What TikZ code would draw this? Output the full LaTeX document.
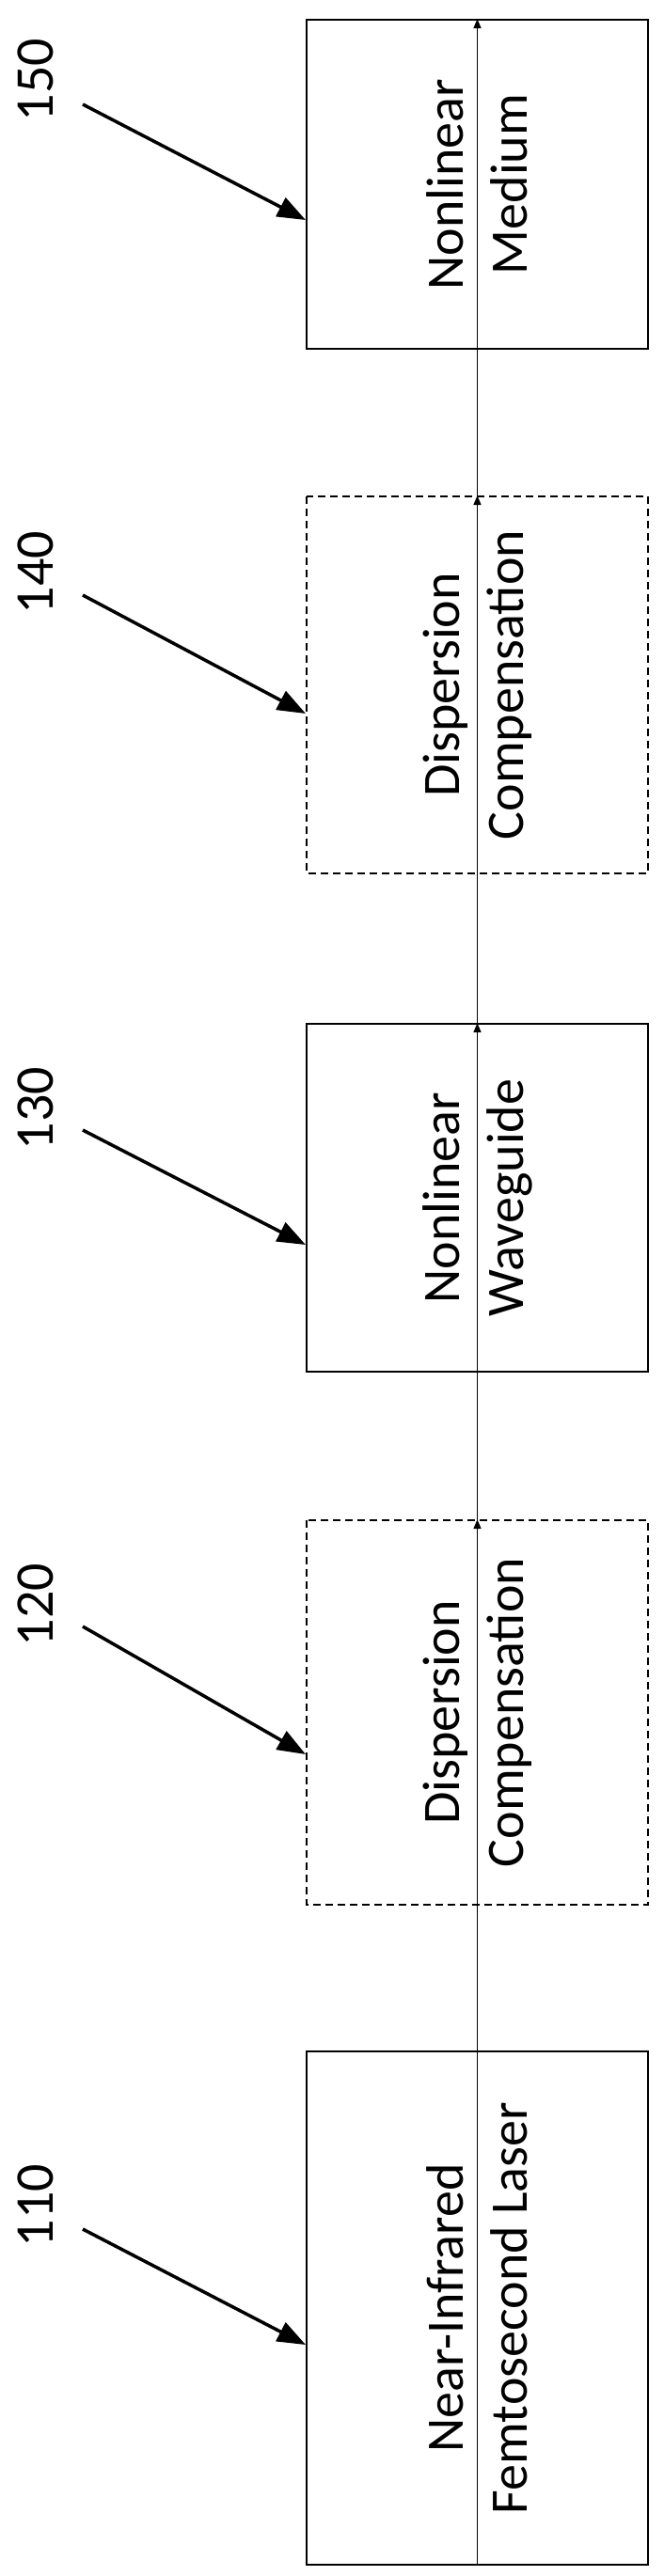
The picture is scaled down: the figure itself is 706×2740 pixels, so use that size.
\documentclass[tikz,border=0pt]{standalone}
\usepackage{fontspec}
\setmainfont{Carlito}
\usetikzlibrary{arrows.meta}
\begin{document}
\begin{tikzpicture}[x=1pt,y=-1pt,
  blk/.style={draw,line width=1.8pt,minimum width=363pt,inner sep=0pt,
    align=center,font=\fontsize{56}{68}\selectfont,rotate=90},
  dblk/.style={blk,dash pattern=on 8pt off 5pt},
  lbl/.style={font=\fontsize{58}{60}\selectfont,rotate=90,inner sep=0pt},
  lead/.style={line width=3.5pt,-{Triangle[length=30pt,width=22pt]}},
  conn/.style={line width=1.5pt,-{Triangle[length=10pt,width=8pt]}}]
\useasboundingbox (0,0) rectangle (706,2740);
% rotated nodes: minimum width is along text direction -> set minimum height as box width
\tikzset{bx/.style 2 args={minimum width=#1,minimum height=363pt}}
\node[blk,bx={350pt}{}] (n150) at (507.5,196) {Nonlinear\\Medium};
\node[dblk,bx={401pt}{}] (n140) at (507.5,728.5) {Dispersion\\Compensation};
\node[blk,bx={370pt}{}] (n130) at (507.5,1274) {Nonlinear\\Waveguide};
\node[dblk,bx={409pt}{}] (n120) at (507.5,1821.5) {Dispersion\\Compensation};
\node[blk,bx={546pt}{}] (n110) at (507.5,2455) {Near-Infrared\\Femtosecond Laser};
\draw[conn] (n110.west) -- (n120.east);
\draw[conn] (n120.west) -- (n130.east);
\draw[conn] (n130.west) -- (n140.east);
\draw[conn] (n140.west) -- (n150.east);
\node[lbl] (l150) at (38,85) {150};
\node[lbl] (l140) at (38,609) {140};
\node[lbl] (l130) at (38,1179) {130};
\node[lbl] (l120) at (38,1707) {120};
\node[lbl] (l110) at (38,2346) {110};
\coordinate (s150) at (88,111); \coordinate (e150) at (325,234);
\coordinate (s140) at (88,633); \coordinate (e140) at (325,759);
\coordinate (s130) at (88,1202); \coordinate (e130) at (325,1324);
\coordinate (s120) at (88,1730); \coordinate (e120) at (325,1866);
\coordinate (s110) at (88,2371); \coordinate (e110) at (325,2494);
\foreach \k in {150,140,130,120,110} {\draw[lead] (s\k) -- (e\k);}
\end{tikzpicture}
\end{document}
